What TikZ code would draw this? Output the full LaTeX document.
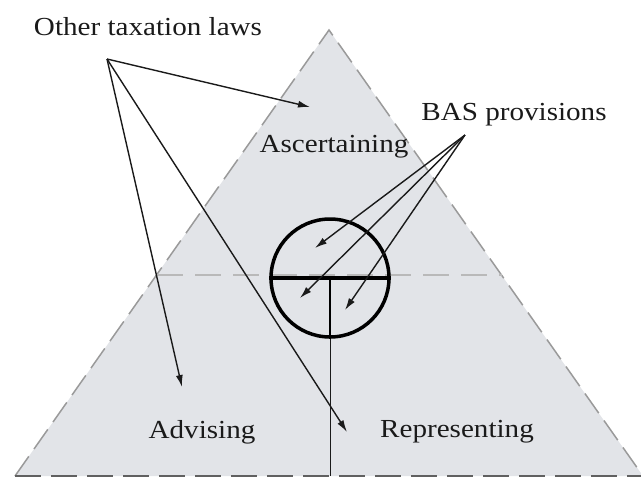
\documentclass[tikz,border=0pt]{standalone}
\usepackage{fontspec}
\setmainfont[FakeStretch=1.12]{Liberation Serif}
\usetikzlibrary{arrows.meta}
\definecolor{trifill}{HTML}{E2E4E8}
\definecolor{edgegray}{HTML}{9A9A9A}
\definecolor{txt}{HTML}{1A1A1A}
\tikzset{
  lbl/.style={anchor=base, font=\fontsize{26}{30}\selectfont, text=txt, inner sep=0pt},
  arr/.style={line width=1.4pt, draw=txt, -{Latex[length=12pt,width=7pt]}},
  triedge/.style={draw=edgegray, line width=1.5pt, dash pattern=on 24pt off 9pt},
  baseedge/.style={draw=gray!75!black, line width=2.5pt, dash pattern=on 26pt off 10pt},
  midline/.style={draw=gray!55, line width=1.5pt, dash pattern=on 26pt off 12pt},
  thick line/.style={draw=black, line width=3.5pt}
}
\begin{document}
\begin{tikzpicture}[x=1pt,y=-1pt]
\useasboundingbox (0,0) rectangle (641,477);
% triangle
\coordinate (apex) at (329,30);
\coordinate (bl) at (15,476);
\coordinate (br) at (643,476);
\fill[trifill] (apex) -- (bl) -- (br) -- cycle;
\draw[triedge] (bl) -- (apex) -- (br);
\draw[baseedge] (bl) -- (br);
% horizontal mid dashed line
\coordinate (ml) at (157,275);
\coordinate (mr) at (502,275);
\draw[midline] (ml) -- (mr);
% circle
\coordinate (cc) at (330,278);
\node[circle, draw=black, line width=3.5pt, minimum size=118pt, inner sep=0pt] (circ) at (cc) {};
\draw[thick line] (circ.west) -- (circ.east);
\draw[line width=2.5pt] (cc) -- (circ.south);
\coordinate (vb) at (330,476);
\draw[line width=1pt, draw=txt] (circ.south) -- (vb);
% labels
\node[lbl] (other) at (148,35) {Other taxation laws};
\node[lbl] (bas) at (514,120) {BAS provisions};
\node[lbl] (asc) at (334,152) {Ascertaining};
\node[lbl] (adv) at (202,438) {Advising};
\node[lbl] (rep) at (457,437) {Representing};
% arrows from Other taxation laws
\coordinate (os) at (107,59);
\coordinate (t1) at (310,107);
\coordinate (t2) at (182,387);
\coordinate (t3) at (347,432);
\draw[arr] (os) -- (t1);
\draw[arr] (os) -- (t2);
\draw[arr] (os) -- (t3);
% arrows from BAS provisions
\coordinate (bs) at (465,135);
\coordinate (b1) at (315,248);
\coordinate (b2) at (300,298);
\coordinate (b3) at (345,310);
\draw[arr] (bs) -- (b1);
\draw[arr] (bs) -- (b2);
\draw[arr] (bs) -- (b3);
\end{tikzpicture}
\end{document}
